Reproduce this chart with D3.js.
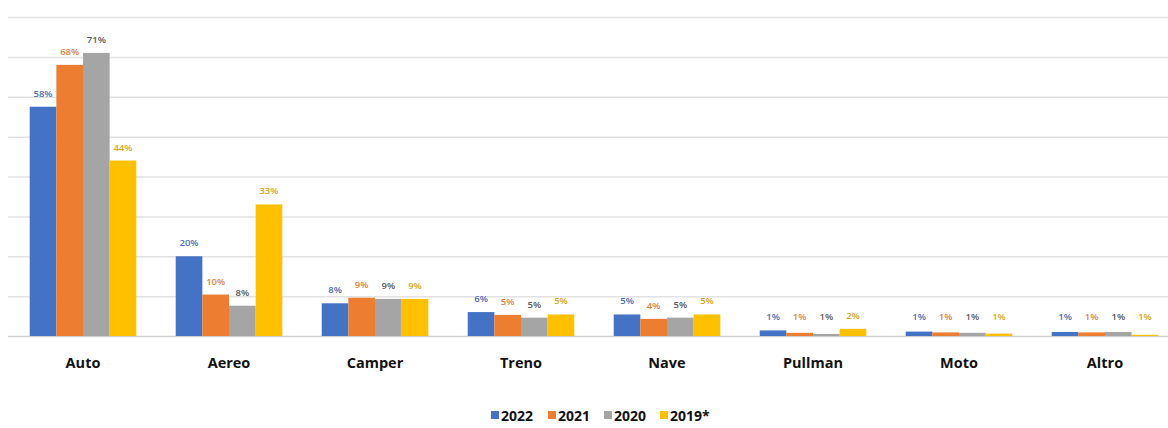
<!DOCTYPE html>
<html><head><meta charset="utf-8">
<script src="https://cdn.jsdelivr.net/npm/d3@7"></script>
<style>body{margin:0;background:#fff}svg{display:block}</style>
</head><body>
<script>
const categories = ["Auto","Aereo","Camper","Treno","Nave","Pullman","Moto","Altro"];
const seriesNames = ["2022","2021","2020","2019*"];
const s2022 = [57.5, 20, 8.2, 6.0, 5.4, 1.4, 1.1, 1.0];
const s2021 = [68, 10.4, 9.6, 5.3, 4.3, 0.8, 0.9, 0.9];
const s2020 = [71, 7.6, 9.3, 4.6, 4.6, 0.5, 0.8, 1.0];
const s2019 = [44, 33, 9.3, 5.4, 5.4, 1.8, 0.6, 0.3];
const seriesValues = [s2022, s2021, s2020, s2019];
const labelValues = [
  [58,20,8,6,5,1,1,1],
  [68,10,9,5,4,1,1,1],
  [71,8,9,5,5,1,1,1],
  [44,33,9,5,5,2,1,1]
];
const gridTicks = [0,10,20,30,40,50,60,70,80];
const colors = ["#4472C4","#ED7D31","#A5A5A5","#FFC000"];
const labelColors = ["#4a6fb5","#d9823f","#595959","#d9a520"];

const W = 1168, H = 428;
const svg = d3.select("body").append("svg").attr("width", W).attr("height", H);
const y = d3.scaleLinear().domain([0, 80]).range([336, 17]);
const x0 = d3.scaleBand().domain(categories).range([10, 1178]).paddingInner(0.27).paddingOuter(0.135);
const x1 = d3.scaleBand().domain(seriesNames).range([0, x0.bandwidth()]);

svg.append("g").selectAll("line").data(gridTicks).join("line")
  .attr("x1", 8).attr("x2", 1168)
  .attr("y1", d => y(d) + 0.5).attr("y2", d => y(d) + 0.5)
  .attr("stroke", d => d === 0 ? "#d0d0d0" : "#e2e2e2").attr("stroke-width", 1.5);

const groups = svg.append("g").selectAll("g").data(categories).join("g")
  .attr("transform", c => `translate(${x0(c)},0)`);

groups.each(function(c, ci) {
  const g = d3.select(this);
  seriesNames.forEach((s, si) => {
    const v = seriesValues[si][ci];
    g.append("rect").attr("x", x1(s)).attr("width", x1.bandwidth())
      .attr("y", y(v)).attr("height", y(0) - y(v)).attr("fill", colors[si]);
    g.append("text").attr("x", x1(s) + x1.bandwidth()/2).attr("y", Math.min(y(v), 330) - 10)
      .attr("text-anchor", "middle").attr("font-family", "Open Sans, sans-serif")
      .attr("font-size", 9.5).attr("font-weight", 600).attr("fill", labelColors[si])
      .text(labelValues[si][ci] + "%");
  });
});

svg.append("g").selectAll("text").data(categories).join("text")
  .attr("x", c => x0(c) + x0.bandwidth()/2).attr("y", 368)
  .attr("text-anchor", "middle").attr("font-family", "Open Sans, sans-serif")
  .attr("font-size", 14.5).attr("font-weight", 700).attr("fill", "#111")
  .text(c => c);

const legendX = [491, 548, 604, 660];
const leg = svg.append("g").selectAll("g").data(seriesNames).join("g")
  .attr("transform", (d, i) => `translate(${legendX[i]},411)`);
leg.append("rect").attr("x", 0).attr("y", 0).attr("width", 8).attr("height", 8)
  .attr("fill", (d, i) => colors[i]);
leg.append("text").attr("x", 10).attr("y", 9.5).attr("font-family", "Open Sans, sans-serif")
  .attr("font-size", 14).attr("font-weight", 700).attr("fill", "#111").text(d => d);
</script>
</body></html>
